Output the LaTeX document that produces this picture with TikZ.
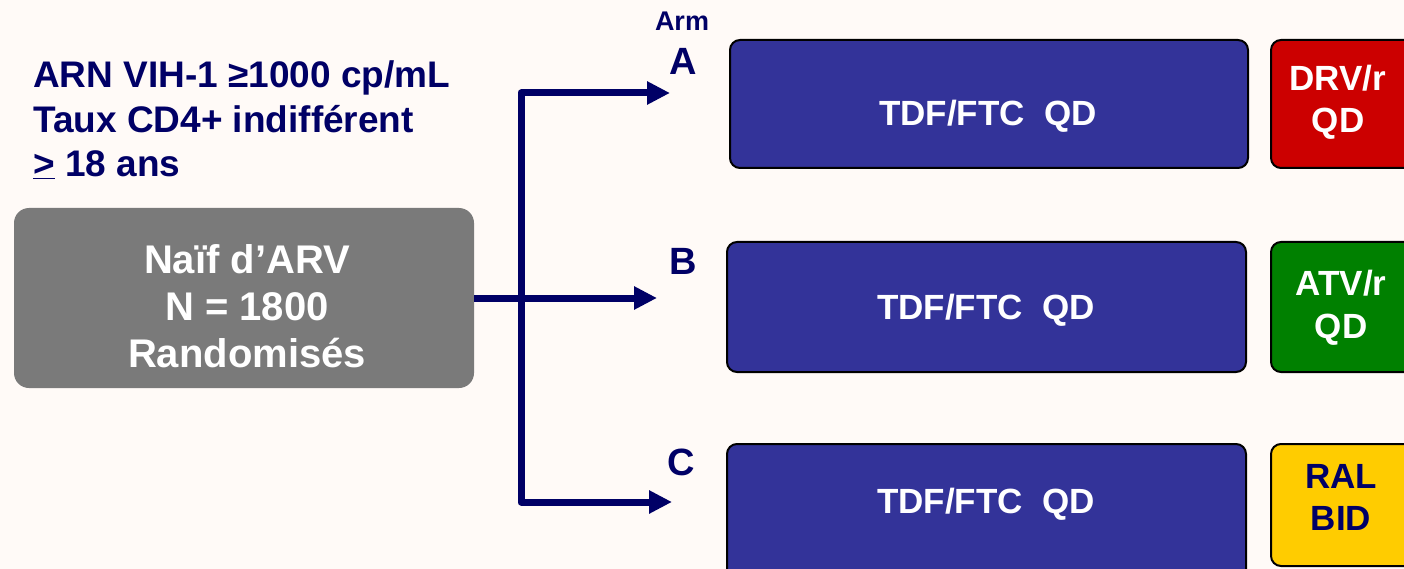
\documentclass[tikz,border=0pt]{standalone}
\usepackage{fontspec}
\setmainfont{Liberation Sans}
\usetikzlibrary{arrows.meta}
\definecolor{bgc}{RGB}{255,250,247}
\definecolor{navy}{RGB}{0,0,102}
\definecolor{boxblue}{RGB}{51,51,153}
\definecolor{boxgray}{RGB}{122,122,122}
\definecolor{boxred}{RGB}{204,0,0}
\definecolor{boxgreen}{RGB}{0,128,0}
\definecolor{boxyellow}{RGB}{255,204,0}
\begin{document}
\begin{tikzpicture}[x=1pt,y=-1pt,
  shapebox/.style={rectangle, rounded corners=10pt, draw=black, line width=2pt, inner sep=0pt},
  graybox/.style={rectangle, rounded corners=15pt, fill=boxgray, inner sep=0pt},
  crit/.style={anchor=base west, inner sep=0pt, text=navy, font=\fontsize{37}{45}\selectfont\bfseries},
  armlab/.style={anchor=base, inner sep=0pt, text=navy, font=\fontsize{38}{45}\selectfont\bfseries},
  armhead/.style={anchor=base, inner sep=0pt, text=navy, font=\fontsize{27}{30}\selectfont\bfseries},
  graytxt/.style={anchor=base, inner sep=0pt, text=white, font=\fontsize{40}{47}\selectfont\bfseries},
  drugtxt/.style={anchor=base, inner sep=0pt, text=white, font=\fontsize{35}{42}\selectfont\bfseries},
  arr/.style={draw=navy, line width=7pt, line join=round,
    {Triangle[length=23pt,width=22pt]}-{Triangle[length=23pt,width=22pt]}},
  arrone/.style={draw=navy, line width=7pt, -{Triangle[length=23pt,width=22pt]}}
]
\useasboundingbox (0,0) rectangle (1404,569);
\clip (0,0) rectangle (1404,569);
\fill[bgc] (0,0) rectangle (1404,569);

% criteria text
\node[crit] (l1) at (33,88) {ARN VIH-1 ≥1000 cp/mL};
\node[crit] (l2) at (33,133) {Taux CD4+ indifférent};
\node[crit] (l3) at (33,177) {\underline{>} 18 ans};

% gray box
\node[graybox, minimum width=460, minimum height=180] (gray) at (244,298) {};
\node[graytxt] (g1) at (247,273) {Naïf d’ARV};
\node[graytxt] (g2) at (247,320) {N = 1800};
\node[graytxt] (g3) at (247,367) {Randomisés};

% arrows
\coordinate (jT) at (521,93);
\coordinate (jB) at (521,502);
\coordinate (tA) at (670,93);
\coordinate (tB) at (657,298);
\coordinate (tC) at (672,502);
\draw[arr] (tA) -- (jT) -- (jB) -- (tC);
\draw[arrone] (gray.east) -- (tB);

% arm labels
\node[armhead] (arm) at (682,31) {Arm};
\node[armlab] (la) at (683,75) {A};
\node[armlab] (lb) at (683,274) {B};
\node[armlab] (lc) at (681,475) {C};

% backbone boxes
\node[shapebox, fill=boxblue, minimum width=518, minimum height=128] (bA) at (989,104) {};
\node[shapebox, fill=boxblue, minimum width=519, minimum height=130] (bB) at (986.5,307) {};
\node[shapebox, fill=boxblue, minimum width=519, minimum height=146] (bC) at (986.5,517) {};
\node[drugtxt] (tbA) at (988,125.5) {TDF/FTC\ \ QD};
\node[drugtxt] (tbB) at (986,319.5) {TDF/FTC\ \ QD};
\node[drugtxt] (tbC) at (986,513.5) {TDF/FTC\ \ QD};

% third drug boxes
\node[shapebox, fill=boxred, minimum width=159, minimum height=128] (rA) at (1350.5,104) {};
\node[shapebox, fill=boxgreen, minimum width=159, minimum height=130] (rB) at (1350.5,307) {};
\node[shapebox, fill=boxyellow, minimum width=159, minimum height=122] (rC) at (1350.5,505) {};
\node[drugtxt] (d1) at (1338,90.5) {DRV/r};
\node[drugtxt] (d2) at (1338,132.5) {QD};
\node[drugtxt] (d3) at (1341,295.5) {ATV/r};
\node[drugtxt] (d4) at (1341,338.5) {QD};
\node[drugtxt, text=navy] (d5) at (1341,488.5) {RAL};
\node[drugtxt, text=navy] (d6) at (1341,530.5) {BID};
\end{tikzpicture}
\end{document}
